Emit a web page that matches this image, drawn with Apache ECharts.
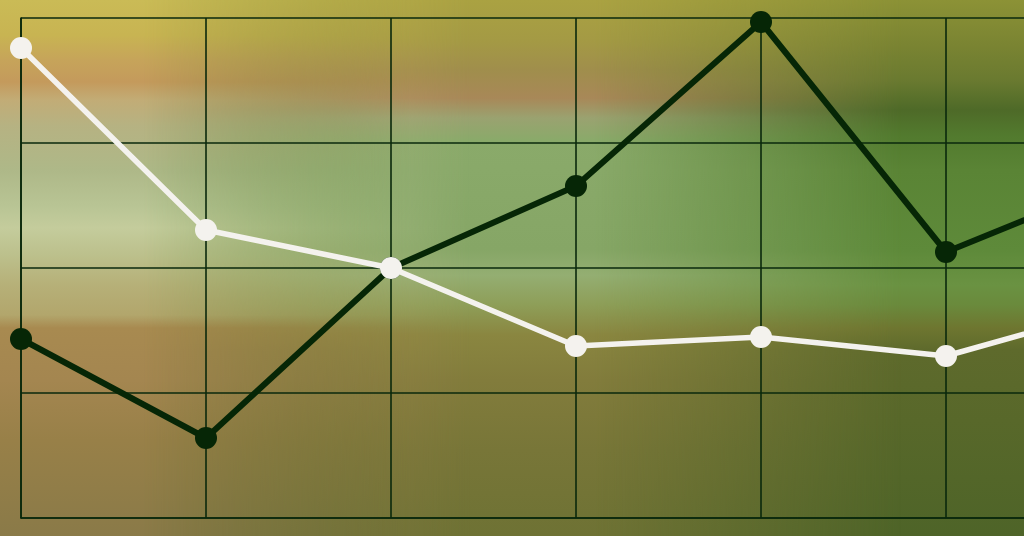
<!DOCTYPE html>
<html>
<head>
<meta charset="utf-8">
<script src="https://cdn.jsdelivr.net/npm/echarts@6/dist/echarts.min.js"></script>
<style>
  html, body { margin: 0; padding: 0; width: 1024px; height: 536px; overflow: hidden; }
  #wrap { position: relative; width: 1024px; height: 536px; }
  .bg { position: absolute; left: 0; top: 0; width: 100%; height: 100%; }
  #bgRight {
    background: linear-gradient(to bottom,
      #8c9236 0px, #7a8432 45px, #6a7a30 80px, #4e6a28 110px, #527a2e 135px,
      #5a8435 170px, #5e8a3a 250px, #6a9242 285px, #6a8a3c 305px, #6e7630 328px,
      #5e6a2c 350px, #58682a 420px, #4e6428 536px);
  }
  #bgMid {
    background: linear-gradient(to bottom,
      #aaa242 0px, #a49a44 40px, #a08e4c 70px, #a88858 98px, #9aa270 118px,
      #8aaa6a 140px, #86a666 250px, #94ae72 275px, #8e9e58 305px, #8a8640 335px,
      #827c3c 380px, #787638 450px, #6e7234 536px);
    -webkit-mask-image: linear-gradient(to right, transparent 12%, #000 40%, #000 58%, transparent 88%);
    mask-image: linear-gradient(to right, transparent 12%, #000 40%, #000 58%, transparent 88%);
  }
  #bgLeft {
    background: linear-gradient(to bottom,
      #cabb56 0px, #c8b452 35px, #c6a45a 60px, #c49a5c 82px, #c2ac76 100px,
      #b6b282 125px, #aeb888 170px, #b8c494 205px, #c4cc9c 228px, #bcc08c 255px,
      #b6b078 285px, #b2a66c 315px, #a88a50 328px, #a48650 380px,
      #988048 440px, #8a7a48 536px);
    -webkit-mask-image: linear-gradient(to right, #000 0%, #000 14%, transparent 46%);
    mask-image: linear-gradient(to right, #000 0%, #000 14%, transparent 46%);
  }
  #chart { position: absolute; left: 0; top: 0; width: 1024px; height: 536px; }
</style>
</head>
<body>
<div id="wrap">
  <div class="bg" id="bgRight"></div>
  <div class="bg" id="bgMid"></div>
  <div class="bg" id="bgLeft"></div>
  <div id="chart"></div>
</div>
<script>
// data (0-100 scale, 7 points, last one runs off the edge)
const categories = ['1', '2', '3', '4', '5', '6', '7'];
const darkSeries = [35.8, 16, 50, 66.4, 99.2, 53.2, 68.3];
const whiteSeries = [94, 57.6, 50, 34.4, 36.2, 32.4, 42.8];

const gridColor = '#0a280c';

const chart = echarts.init(document.getElementById('chart'), null, { renderer: 'canvas' });

chart.setOption({
  backgroundColor: 'transparent',
  animation: false,
  // grid is wider than the page on purpose: the 7th column runs off the right edge
  grid: { left: 21, top: 18, width: 1110, height: 500, containLabel: false, outerBoundsMode: 'none' },
  xAxis: {
    type: 'category',
    data: categories,
    boundaryGap: false,
    axisLine: { show: true, lineStyle: { color: gridColor, width: 1.6 } },
    axisTick: { show: false },
    axisLabel: { show: false, interval: 0 },
    splitLine: { show: true, interval: 0, lineStyle: { color: gridColor, width: 1.6 } }
  },
  yAxis: {
    type: 'value',
    min: 0,
    max: 100,
    interval: 25,
    axisLine: { show: true, lineStyle: { color: gridColor, width: 1.6 } },
    axisTick: { show: false },
    axisLabel: { show: false },
    splitLine: { show: true, lineStyle: { color: gridColor, width: 1.6 } }
  },
  series: [
    {
      name: 'dark',
      type: 'line',
      data: darkSeries,
      symbol: 'circle',
      symbolSize: 22,
      lineStyle: { color: '#062606', width: 6 },
      itemStyle: { color: '#062606', borderWidth: 0 },
      z: 2
    },
    {
      name: 'white',
      type: 'line',
      data: whiteSeries,
      symbol: 'circle',
      symbolSize: 22,
      lineStyle: { color: '#f4f2ee', width: 5.5 },
      itemStyle: { color: '#f4f2ee', borderWidth: 0 },
      z: 3
    }
  ]
});
</script>
</body>
</html>
